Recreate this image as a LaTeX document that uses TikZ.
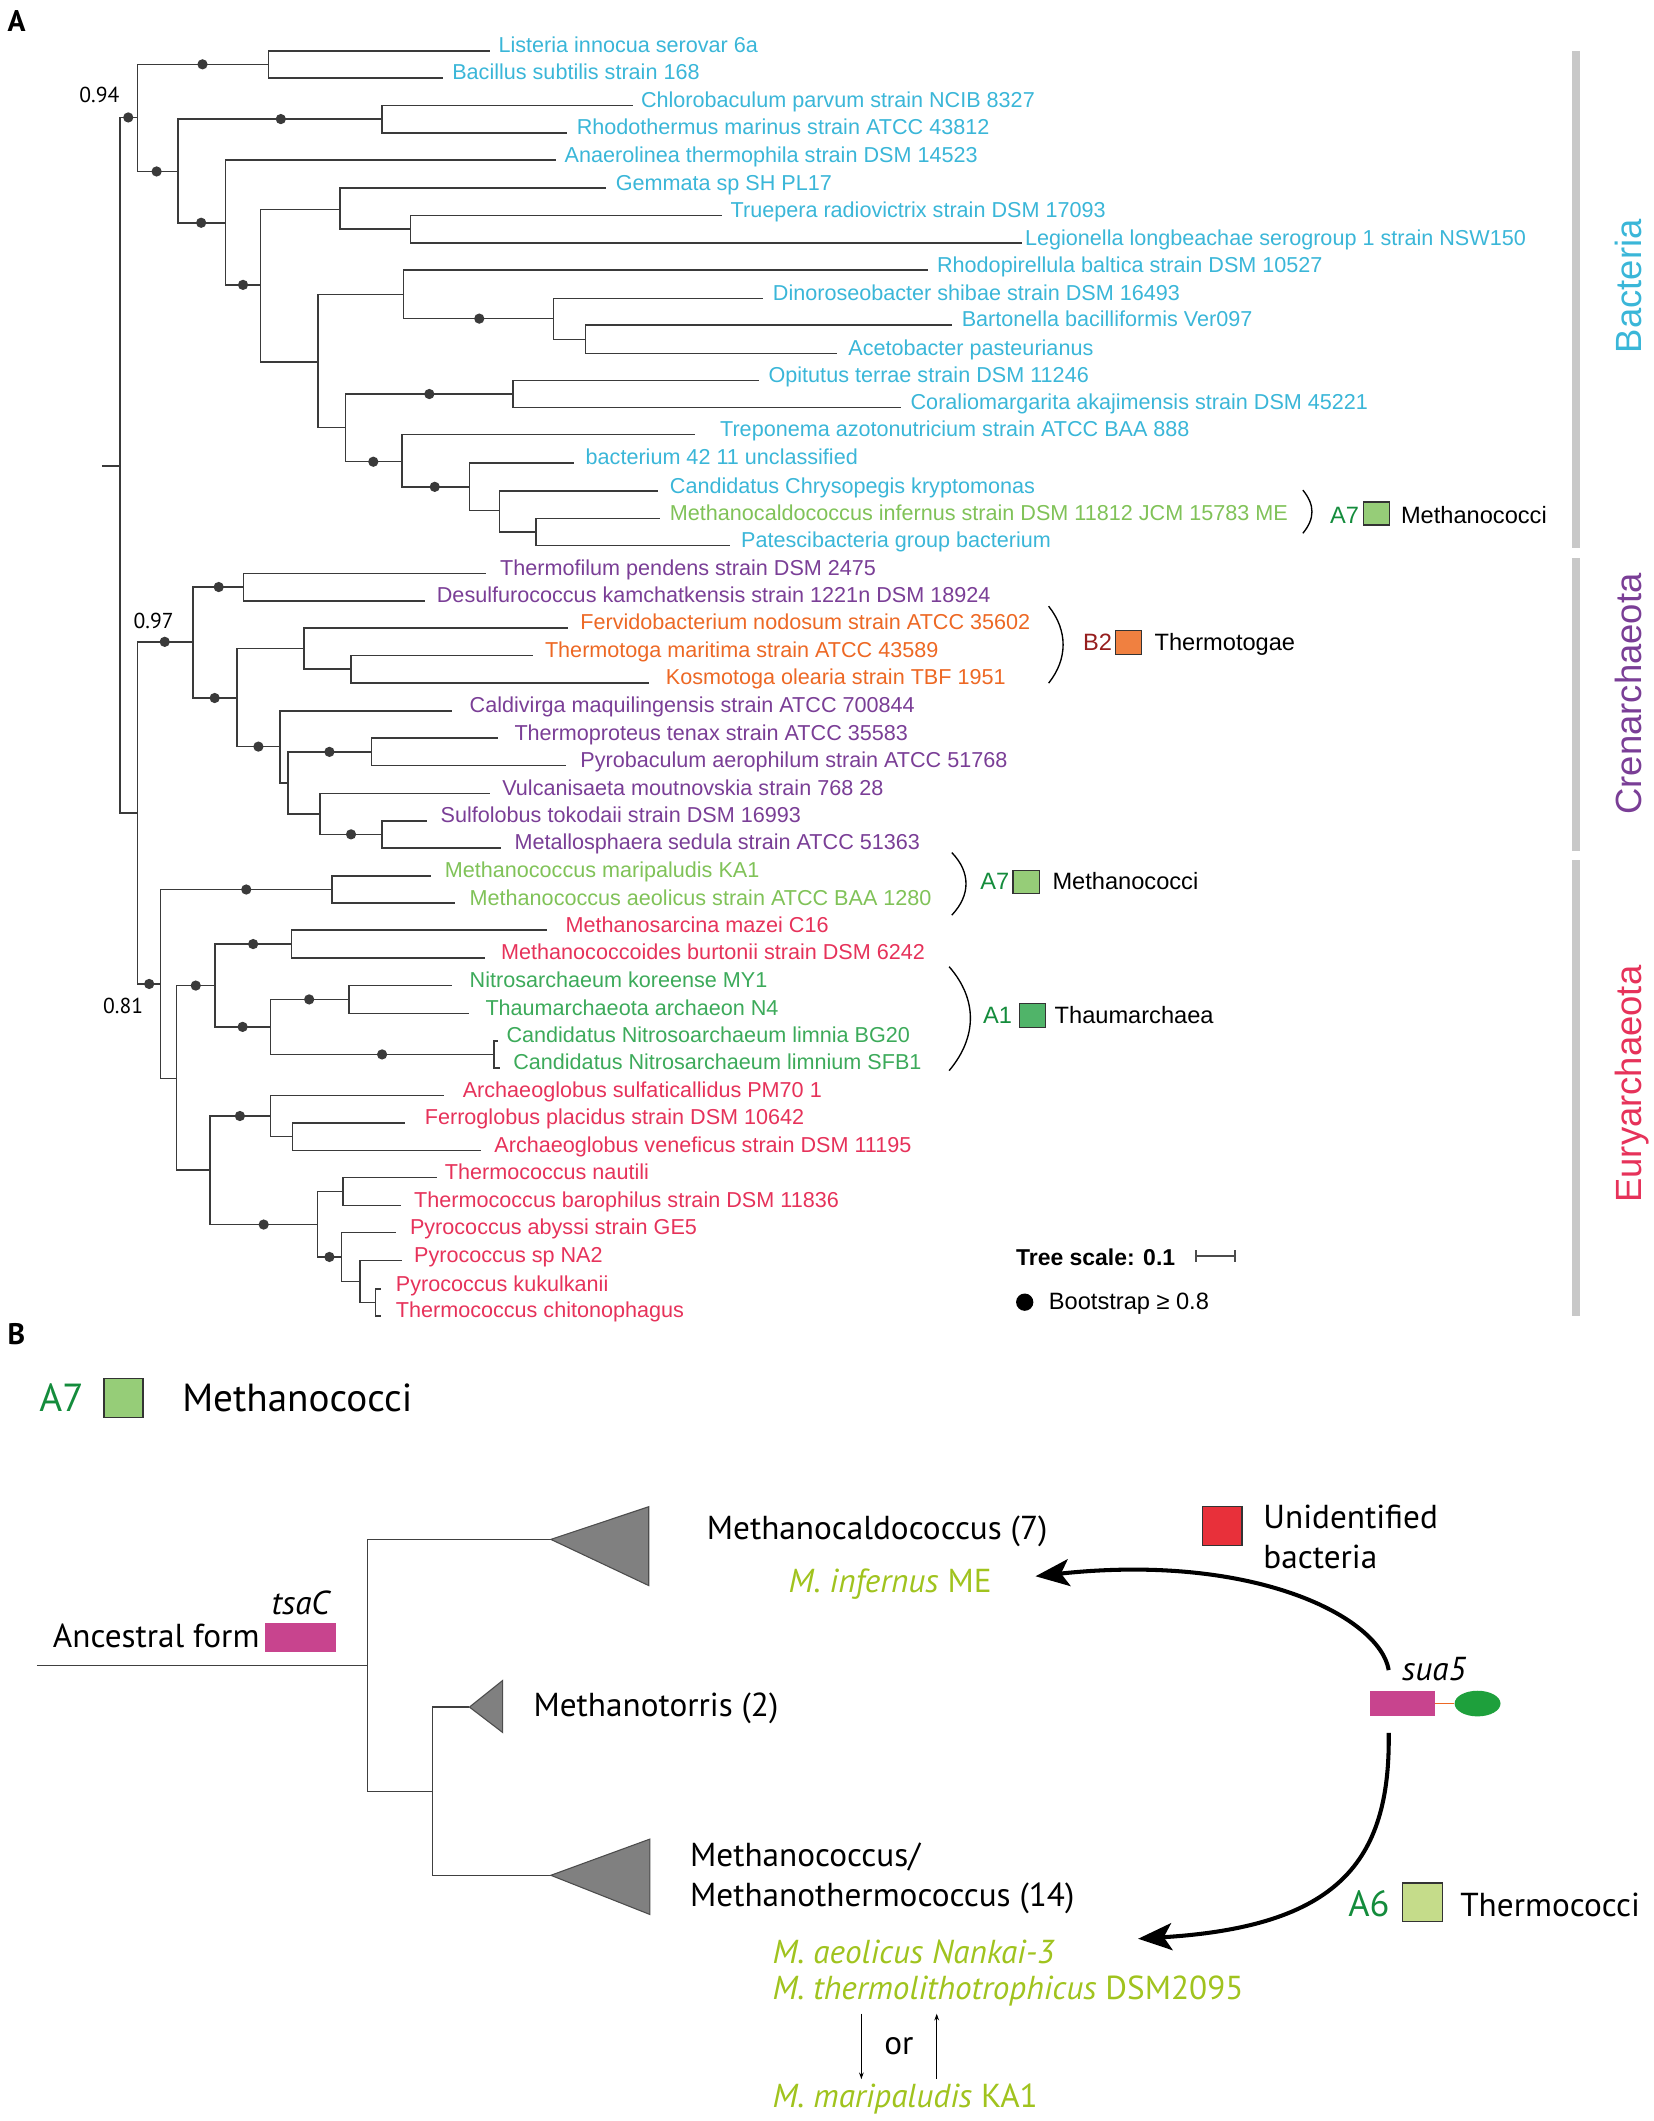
\documentclass[tikz,border=0pt]{standalone}
\usepackage{fontspec}
\setmainfont{Liberation Sans}
\newfontfamily\myr{PT Sans}
\usetikzlibrary{arrows.meta,shapes.geometric}
\definecolor{treec}{RGB}{58,58,58}
\definecolor{cyanB}{RGB}{58,182,216}
\definecolor{purC}{RGB}{122,62,150}
\definecolor{oraT}{RGB}{237,104,36}
\definecolor{redE}{RGB}{230,50,90}
\definecolor{lgrn}{RGB}{128,194,88}
\definecolor{grnT}{RGB}{60,170,90}
\definecolor{dkgrn}{RGB}{20,140,60}
\definecolor{dkred}{RGB}{150,30,30}
\definecolor{fillA7}{RGB}{150,205,120}
\definecolor{fillA1}{RGB}{80,180,105}
\definecolor{fillB2}{RGB}{240,128,64}
\definecolor{fillA6}{RGB}{197,220,138}
\definecolor{barc}{RGB}{200,200,200}
\definecolor{lime}{RGB}{160,195,30}
\definecolor{magen}{RGB}{200,68,142}
\definecolor{ellg}{RGB}{30,160,60}
\definecolor{redsq}{RGB}{232,48,58}
\definecolor{trig}{RGB}{128,128,128}
\newcommand\lf[6]{\coordinate (L#1) at (#2,#3);
  \node[leaf,text=#5] (t#1) at (#4,#3) {#6};}
\newcommand\br[2]{\draw[branch] (#1) |- (#2);}
\newcommand\dt[2]{\fill[treec] (#1,#2) circle (3.8pt);}
\begin{document}
\begin{tikzpicture}[x=1pt,y=-1pt,
  branch/.style={draw=treec,line width=1.1pt},
  leaf/.style={anchor=base west,inner sep=0pt,font=\fontsize{16}{18}\selectfont,yshift=-1.5pt},
  ann/.style={anchor=base west,inner sep=0pt,font=\fontsize{17.5}{20}\selectfont},
  sqr/.style={draw=black!80,line width=1pt,inner sep=0pt},
  btxt/.style={anchor=base west,inner sep=0pt,font=\myr\fontsize{24.6}{28}\selectfont},
  bhd/.style={anchor=base west,inner sep=0pt,font=\myr\fontsize{29}{33}\selectfont},
  bs/.style={anchor=base west,inner sep=0pt,font=\myr\fontsize{16}{18}\selectfont},
  vlab/.style={rotate=90,anchor=base,inner sep=0pt,font=\fontsize{27}{30}\selectfont},
  btree/.style={draw=black!75,line width=1pt},
  tri/.style={fill=trig,draw=black!70,line width=0.8pt},
  bigarr/.style={line width=3pt,-{Stealth[length=25pt,width=20pt,inset=6pt]}},
  smarr/.style={line width=0.9pt,-{Stealth[length=5pt,width=3.5pt]}}]
\useasboundingbox (0,0) rectangle (1225,1571);
% ---------- panel labels
\node[anchor=base west,inner sep=0pt,font=\myr\bfseries\fontsize{22}{24}\selectfont] (pA) at (5.5,23.3) {A};
\node[anchor=base west,inner sep=0pt,font=\myr\bfseries\fontsize{22}{24}\selectfont] (pB) at (5.5,995.8) {B};
% ---------- internal nodes
\coordinate (r0) at (75.4,345);
\coordinate (r) at (89,345);
\coordinate (b0) at (102,87);   \coordinate (a0) at (102,602);
\coordinate (b1) at (199,47.65); \coordinate (b2) at (132,127);
\coordinate (b3) at (283,88.2); \coordinate (b4) at (167,165);
\coordinate (b5) at (193,211);  \coordinate (b6) at (252,155);
\coordinate (b7) at (235.5,268); \coordinate (b8) at (304,169.75);
\coordinate (b9) at (299,218);  \coordinate (b10) at (256,316.7);
\coordinate (b11) at (410,236); \coordinate (b12) at (433.6,251.35);
\coordinate (b13) at (380,291.85); \coordinate (b14) at (297.6,342);
\coordinate (b15) at (347.6,360.6); \coordinate (b16) at (370,378.3);
\coordinate (b17) at (397,394);
\coordinate (c0) at (143,475.4); \coordinate (c1) at (180.5,434.8);
\coordinate (c2) at (175.4,517); \coordinate (c3) at (225,480.4);
\coordinate (c4) at (207.4,553); \coordinate (c5) at (259.8,495.6);
\coordinate (c6) at (213.3,580); \coordinate (c7) at (275,556.9);
\coordinate (c8) at (237,603);   \coordinate (c9) at (283,618);
\coordinate (e0) at (119,728.8); \coordinate (e1) at (246,658.85);
\coordinate (e2) at (130.9,799); \coordinate (e3) at (159.4,730);
\coordinate (e4) at (155.5,866.7); \coordinate (e5) at (216,699.25);
\coordinate (e6) at (200.4,760.6); \coordinate (e7) at (258.6,740.25);
\coordinate (e8) at (366,781);   \coordinate (e9) at (200.4,826.6);
\coordinate (e10) at (235,907);  \coordinate (e11) at (216.8,841.85);
\coordinate (e12) at (254,882.6); \coordinate (e13) at (253,931);
\coordinate (e14) at (266.8,949.05); \coordinate (e15) at (278,964.7);
% ---------- leaves
\lf{1}{363}{37.6}{369.1}{cyanB}{Listeria innocua serovar 6a}
\lf{2}{328}{57.7}{334.8}{cyanB}{Bacillus subtilis strain 168}
\lf{3}{469}{78}{474.6}{cyanB}{Chlorobaculum parvum strain NCIB 8327}
\lf{4}{420}{98.4}{427}{cyanB}{Rhodothermus marinus strain ATCC 43812}
\lf{5}{412}{118.5}{418}{cyanB}{Anaerolinea thermophila strain DSM 14523}
\lf{6}{449}{139.4}{455.9}{cyanB}{Gemmata sp SH PL17}
\lf{7}{535}{159.5}{541}{cyanB}{Truepera radiovictrix strain DSM 17093}
\lf{8}{757}{180}{759.1}{cyanB}{Legionella longbeachae serogroup 1 strain NSW150}
\lf{9}{687}{200}{693.9}{cyanB}{Rhodopirellula baltica strain DSM 10527}
\lf{10}{565}{221}{572.3}{cyanB}{Dinoroseobacter shibae strain DSM 16493}
\lf{11}{705}{240.7}{712.2}{cyanB}{Bartonella bacilliformis Ver097}
\lf{12}{620}{262}{628.2}{cyanB}{Acetobacter pasteurianus}
\lf{13}{562.5}{281.7}{569.1}{cyanB}{Opitutus terrae strain DSM 11246}
\lf{14}{667}{302}{674.3}{cyanB}{Coraliomargarita akajimensis strain DSM 45221}
\lf{15}{515}{322}{533.2}{cyanB}{Treponema azotonutricium strain ATCC BAA 888}
\lf{16}{425}{342.9}{433.6}{cyanB}{bacterium 42 11 unclassified}
\lf{17}{487.5}{363.8}{496}{cyanB}{Candidatus Chrysopegis kryptomonas}
\lf{18}{489}{384}{496}{lgrn}{Methanocaldococcus infernus strain DSM 11812 JCM 15783 ME}
\lf{19}{541}{404}{548.8}{cyanB}{Patescibacteria group bacterium}
\lf{20}{360}{424.6}{370.3}{purC}{Thermofilum pendens strain DSM 2475}
\lf{21}{315}{445}{323.4}{purC}{Desulfurococcus kamchatkensis strain 1221n DSM 18924}
\lf{22}{421}{465}{429.7}{oraT}{Fervidobacterium nodosum strain ATCC 35602}
\lf{23}{395}{485.4}{403.5}{oraT}{Thermotoga maritima strain ATCC 43589}
\lf{24}{481}{505.8}{493}{oraT}{Kosmotoga olearia strain TBF 1951}
\lf{25}{334.8}{526.5}{347.7}{purC}{Caldivirga maquilingensis strain ATCC 700844}
\lf{26}{369}{546.8}{380.9}{purC}{Thermoproteus tenax strain ATCC 35583}
\lf{27}{419}{567}{429.7}{purC}{Pyrobaculum aerophilum strain ATCC 51768}
\lf{28}{363}{587.8}{371.9}{purC}{Vulcanisaeta moutnovskia strain 768 28}
\lf{29}{316.4}{608}{326.2}{purC}{Sulfolobus tokodaii strain DSM 16993}
\lf{30}{371}{628}{380.9}{purC}{Metallosphaera sedula strain ATCC 51363}
\lf{31}{319.5}{648.7}{329.3}{lgrn}{Methanococcus maripaludis KA1}
\lf{32}{336.7}{669}{347.7}{lgrn}{Methanococcus aeolicus strain ATCC BAA 1280}
\lf{33}{405}{689}{418.8}{redE}{Methanosarcina mazei C16}
\lf{34}{359}{709.5}{371}{redE}{Methanococcoides burtonii strain DSM 6242}
\lf{35}{334.8}{730}{347.7}{grnT}{Nitrosarchaeum koreense MY1}
\lf{36}{347.7}{750.5}{359.4}{grnT}{Thaumarchaeota archaeon N4}
\lf{37}{369}{771}{375}{grnT}{Candidatus Nitrosoarchaeum limnia BG20}
\lf{38}{370}{791}{380}{grnT}{Candidatus Nitrosarchaeum limnium SFB1}
\lf{39}{329}{811.4}{342.6}{redE}{Archaeoglobus sulfaticallidus PM70 1}
\lf{40}{300}{831.7}{314.5}{redE}{Ferroglobus placidus strain DSM 10642}
\lf{41}{356}{852}{366}{redE}{Archaeoglobus veneficus strain DSM 11195}
\lf{42}{324}{872.2}{329.3}{redE}{Thermococcus nautili}
\lf{43}{297}{893}{306.6}{redE}{Thermococcus barophilus strain DSM 11836}
\lf{44}{293}{913}{303.5}{redE}{Pyrococcus abyssi strain GE5}
\lf{45}{297.6}{933.6}{306.6}{redE}{Pyrococcus sp NA2}
\lf{46}{282}{954.8}{293}{redE}{Pyrococcus kukulkanii}
\lf{47}{282}{974.6}{293}{redE}{Thermococcus chitonophagus}
% ---------- branches
\draw[branch] (r0) -- (r);
\br{r}{b0}\br{r}{a0}
\br{b0}{b1}\br{b0}{b2}
\br{b1}{L1}\br{b1}{L2}
\br{b2}{b3}\br{b2}{b4}
\br{b3}{L3}\br{b3}{L4}
\br{b4}{L5}\br{b4}{b5}
\br{b5}{b6}\br{b5}{b7}
\br{b6}{L6}\br{b6}{b8}
\br{b8}{L7}\br{b8}{L8}
\br{b7}{b9}\br{b7}{b10}
\br{b9}{L9}\br{b9}{b11}
\br{b11}{L10}\br{b11}{b12}
\br{b12}{L11}\br{b12}{L12}
\br{b10}{b13}\br{b10}{b14}
\br{b13}{L13}\br{b13}{L14}
\br{b14}{L15}\br{b14}{b15}
\br{b15}{L16}\br{b15}{b16}
\br{b16}{L17}\br{b16}{b17}
\br{b17}{L18}\br{b17}{L19}
\br{a0}{c0}\br{a0}{e0}
\br{c0}{c1}\br{c0}{c2}
\br{c1}{L20}\br{c1}{L21}
\br{c2}{c3}\br{c2}{c4}
\br{c3}{L22}\br{c3}{c5}
\br{c5}{L23}\br{c5}{L24}
\br{c4}{L25}\br{c4}{c6}
\br{c6}{c7}\br{c6}{c8}
\br{c7}{L26}\br{c7}{L27}
\br{c8}{L28}\br{c8}{c9}
\br{c9}{L29}\br{c9}{L30}
\br{e0}{e1}\br{e0}{e2}
\br{e1}{L31}\br{e1}{L32}
\br{e2}{e3}\br{e2}{e4}
\br{e3}{e5}\br{e3}{e6}
\br{e5}{L33}\br{e5}{L34}
\br{e6}{e7}\br{e6}{e8}
\br{e7}{L35}\br{e7}{L36}
\br{e8}{L37}\br{e8}{L38}
\br{e4}{e9}\br{e4}{e10}
\br{e9}{L39}\br{e9}{e11}
\br{e11}{L40}\br{e11}{L41}
\br{e10}{e12}\br{e10}{e13}
\br{e12}{L42}\br{e12}{L43}
\br{e13}{L44}\br{e13}{e14}
\br{e14}{L45}\br{e14}{e15}
\br{e15}{L46}\br{e15}{L47}
% ---------- bootstrap dots
\dt{95}{87}\dt{150}{47.65}\dt{116}{127}\dt{208}{88.2}\dt{149}{165}\dt{180}{211}
\dt{355}{236}\dt{318}{291.85}\dt{276.5}{342}\dt{322}{360.6}
\dt{122}{475.4}\dt{162}{434.8}\dt{159}{517}\dt{191.4}{553}\dt{244}{556.9}\dt{260}{618}
\dt{110.5}{728.8}\dt{182.4}{658.85}\dt{145}{730}\dt{187.5}{699.25}\dt{179.7}{760.6}
\dt{229}{740.25}\dt{283}{781}\dt{177.7}{826.6}\dt{195.3}{907}\dt{244}{931}
% ---------- support labels
\node[bs] (s094) at (58.6,76.2) {0.94};
\node[bs] (s097) at (98.8,465.6) {0.97};
\node[bs] (s081) at (76.2,750.5) {0.81};
% ---------- group bars
\fill[barc] (1164,37.6) rectangle (1170,406);
\fill[barc] (1164,413) rectangle (1170,630);
\fill[barc] (1164,637) rectangle (1170,974.6);
\node[vlab,text=cyanB] (gBac) at (1216,212) {Bacteria};
\node[vlab,text=purC] (gCren) at (1216,514) {Crenarchaeota};
\node[vlab,text=redE] (gEury) at (1216,803) {Euryarchaeota};
% ---------- annotations
\draw[line width=1pt] (965,363) .. controls (974,374) and (974,384) .. (965,395);
\node[ann,text=dkgrn] (x1a) at (985,388) {A7};
\node[sqr,fill=fillA7,minimum width=19.5pt,minimum height=17pt] (x1s) at (1019.6,380.3) {};
\node[ann] (x1n) at (1037.5,388) {Methanococci};
\draw[line width=1pt] (776.7,449) .. controls (791,467) and (791,488) .. (776.7,506);
\node[ann,text=dkred] (x2a) at (802,481.8) {B2};
\node[sqr,fill=fillB2,minimum width=19.5pt,minimum height=17.5pt] (x2s) at (835.9,475.9) {};
\node[ann] (x2n) at (855,481.8) {Thermotogae};
\draw[line width=1pt] (705,631.5) .. controls (719,646) and (719,663) .. (705,677.8);
\node[ann,text=dkgrn] (x3a) at (726,659) {A7};
\node[sqr,fill=fillA7,minimum width=19.5pt,minimum height=17.3pt] (x3s) at (760,653.3) {};
\node[ann] (x3n) at (779.4,659) {Methanococci};
\draw[line width=1pt] (703,716) .. controls (724,740) and (724,768) .. (703,793);
\node[ann,text=dkgrn] (x4a) at (728,758.3) {A1};
\node[sqr,fill=fillA1,minimum width=19.5pt,minimum height=17.5pt] (x4s) at (764.8,752.2) {};
\node[ann] (x4n) at (781,758.3) {Thaumarchaea};
% ---------- legend
\node[anchor=base west,inner sep=0pt,font=\bfseries\fontsize{17}{20}\selectfont] (tsc) at (752.4,937) {Tree scale: 0.1};
\coordinate (sc1) at (886,930.5); \coordinate (sc2) at (914.6,930.5);
\draw[line width=1.6pt,draw=black!70] (sc1) -- (sc2);
\draw[line width=1.4pt,draw=black!70] (886,926) -- (886,935) (914.6,926) -- (914.6,935);
\fill (759,964.5) circle (6.4pt);
\node[anchor=base west,inner sep=0pt,font=\fontsize{17.5}{20}\selectfont] (bst) at (776.7,970) {Bootstrap ≥ 0.8};
% ================= panel B
\node[bhd,text=dkgrn] (hA7) at (29,1045.5) {A7};
\node[sqr,fill=fillA7,minimum width=29pt,minimum height=29pt] (hsq) at (91.5,1035.5) {};
\node[bhd] (hMe) at (134.8,1045.5) {Methanococci};
\coordinate (R0) at (27.3,1233.5);
\coordinate (R) at (272.3,1233.5);
\coordinate (T1) at (408,1140.2);
\coordinate (N2) at (320.3,1327);
\coordinate (T2) at (347.7,1264.4);
\coordinate (T3) at (408,1389);
\draw[btree] (R0) -- (R);
\draw[btree] (R) |- (T1);
\draw[btree] (R) |- (N2);
\draw[btree] (N2) |- (T2);
\draw[btree] (N2) |- (T3);
\filldraw[tri] (T1) -- (480.5,1116) -- (480.5,1174.4) -- cycle;
\filldraw[tri] (T2) -- (372.3,1244.7) -- (372.3,1283.2) -- cycle;
\filldraw[tri] (T3) -- (481.3,1362.2) -- (481.3,1418) -- cycle;
\node[btxt] (anc) at (39,1219.9) {Ancestral form};
\node[btxt] (tsa) at (201,1195.6) {\itshape tsaC};
\node[fill=magen,inner sep=0pt,minimum width=52.3pt,minimum height=21.2pt] (tsr) at (222.65,1212.9) {};
\node[btxt] (mc7) at (523.4,1140) {Methanocaldococcus (7)};
\node[btxt,text=lime] (inf) at (584,1179.6) {\itshape M. infernus\/\upshape\ ME};
\node[btxt] (mto) at (395,1271.3) {Methanotorris (2)};
\node[btxt] (mco1) at (511,1382.5) {Methanococcus/};
\node[btxt] (mco2) at (511,1411.9) {Methanothermococcus (14)};
\node[btxt,text=lime] (aeo) at (572,1454.6) {\itshape M. aeolicus Nankai-3};
\node[btxt,text=lime] (the) at (572,1481) {\itshape M. thermolithotrophicus\/\upshape\ DSM2095};
\node[btxt,text=lime] (mar) at (572,1561.2) {\itshape M. maripaludis\/\upshape\ KA1};
\node[btxt] (orr) at (654.8,1521.8) {or};
\coordinate (d1) at (638,1491.5); \coordinate (d2) at (638,1540);
\coordinate (u1) at (693.8,1540); \coordinate (u2) at (693.8,1491.5);
\draw[smarr] (d1) -- (d2);
\draw[smarr] (u1) -- (u2);
\node[sqr,fill=redsq,minimum width=29.3pt,minimum height=28.8pt] (rsq) at (905.35,1130.4) {};
\node[btxt] (uni1) at (935.6,1132) {Unidentified};
\node[btxt] (uni2) at (935.6,1161.4) {bacteria};
\node[btxt] (sua) at (1038.4,1244.7) {\itshape sua5};
\node[fill=magen,inner sep=0pt,minimum width=48pt,minimum height=19pt] (srect) at (1039,1261.8) {};
\node[fill=ellg,ellipse,inner sep=0pt,minimum width=34pt,minimum height=19pt] (sell) at (1094.4,1261.8) {};
\draw[draw=oraT,line width=0.8pt] (srect.east) -- (sell.west);
\coordinate (up0) at (1028.6,1237);
\coordinate (up1) at (767,1167.5);
\draw[bigarr] (up0) .. controls (1022,1198) and (930,1150) .. (up1);
\coordinate (dn0) at (1028.6,1283.5);
\coordinate (dn1) at (843,1436);
\draw[bigarr] (dn0) .. controls (1030,1380) and (990,1427) .. (dn1);
\node[btxt,text=dkgrn,font=\myr\fontsize{27}{30}\selectfont] (a6) at (998.5,1419.7) {A6};
\node[sqr,fill=fillA6,minimum width=29.5pt,minimum height=28.8pt] (a6s) at (1053.75,1409) {};
\node[btxt] (thc) at (1081.4,1419.7) {Thermococci};
\end{tikzpicture}
\end{document}
